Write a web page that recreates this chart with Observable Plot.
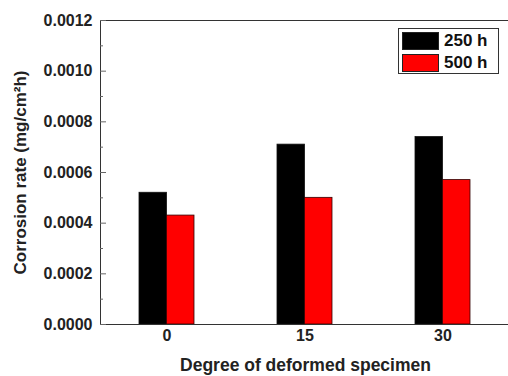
<!DOCTYPE html>
<html>
<head>
<meta charset="utf-8">
<script src="https://cdn.jsdelivr.net/npm/d3@7"></script>
<script src="https://cdn.jsdelivr.net/npm/@observablehq/plot@0.6"></script>
<style>
  html, body { margin: 0; padding: 0; background: #fff; overflow: hidden; }
  #wrap { position: relative; width: 508px; height: 376px; font-family: "Liberation Sans", Arial, sans-serif; }
  #legend { position: absolute; left: 398px; top: 28px; width: 101px; height: 46px; border: 1px solid #333; background: #fff; box-sizing: border-box; }
  .row { position: absolute; left: 3px; height: 18px; display: flex; align-items: center; }
  .sw { width: 37px; height: 18px; box-sizing: border-box; border: 1px solid #222; }
  .lab { margin-left: 5px; font-weight: bold; font-size: 17px; color: #111; }
</style>
</head>
<body>
<div id="wrap"></div>
<script>
const categories = ["0", "15", "30"];
const seriesNames = ["250 h", "500 h"];
const seriesColors = ["#000000", "#ff0000"];
const rate250 = [0.00052, 0.00071, 0.00074];
const rate500 = [0.00043, 0.00050, 0.00057];
const yTicks = [0, 0.0002, 0.0004, 0.0006, 0.0008, 0.0010, 0.0012];
const yMinorTicks = [0.0001, 0.0003, 0.0005, 0.0007, 0.0009, 0.0011];
const yLabel = "Corrosion rate (mg/cm²h)";
const xLabel = "Degree of deformed specimen";

const data = categories.map((c, i) => ({cat: c, v250: rate250[i], v500: rate500[i]}));
const font = "Liberation Sans, Arial, sans-serif";

const chart = Plot.plot({
  width: 508,
  height: 376,
  marginLeft: 100,
  marginRight: -2,
  marginTop: 20,
  marginBottom: 52,
  style: {fontFamily: font, fontSize: "16px", background: "#fff", overflow: "hidden"},
  x: {domain: categories, paddingInner: 0.6, paddingOuter: 0.28, label: null},
  y: {domain: [0, 0.0012], label: null},
  marks: [
    Plot.barY(data, {x: "cat", y: "v250", fill: seriesColors[0], stroke: "#111", strokeWidth: 0.8, insetRight: 27.5}),
    Plot.barY(data, {x: "cat", y: "v500", fill: seriesColors[1], stroke: "#300", strokeWidth: 0.8, insetLeft: 27.5}),
    Plot.frame({stroke: "#333"}),
    Plot.axisY(yTicks, {tickSize: 6, dx: 6, text: null, stroke: "#666", label: null}),
    Plot.axisY(yMinorTicks, {tickSize: 3, dx: 3, text: null, stroke: "#666", label: null}),
    Plot.axisY(yTicks, {tickSize: 0, tickPadding: 8, tickFormat: d => d.toFixed(4), fontSize: 16, fontWeight: "bold", fill: "#222", label: null}),
    Plot.axisX({tickSize: 0, tickPadding: 5, fontSize: 16, fontWeight: "bold", fill: "#222", label: null}),
    Plot.text([yLabel], {text: d => d, frameAnchor: "left", dx: -80, rotate: -90, textAnchor: "middle", fontSize: 17, fontWeight: "bold", fill: "#222"}),
    Plot.text([xLabel], {text: d => d, frameAnchor: "bottom", dy: 41, lineAnchor: "middle", textAnchor: "middle", fontSize: 17.5, fontWeight: "bold", fill: "#222"})
  ]
});

const wrap = document.getElementById("wrap");
wrap.appendChild(chart);
const legend = document.createElement("div");
legend.id = "legend";
seriesNames.forEach((name, i) => {
  const row = document.createElement("div");
  row.className = "row";
  row.style.top = (3 + i * 22) + "px";
  const sw = document.createElement("div");
  sw.className = "sw";
  sw.style.background = seriesColors[i];
  const lab = document.createElement("span");
  lab.className = "lab";
  lab.textContent = name;
  row.appendChild(sw);
  row.appendChild(lab);
  legend.appendChild(row);
});
wrap.appendChild(legend);
</script>
</body>
</html>
